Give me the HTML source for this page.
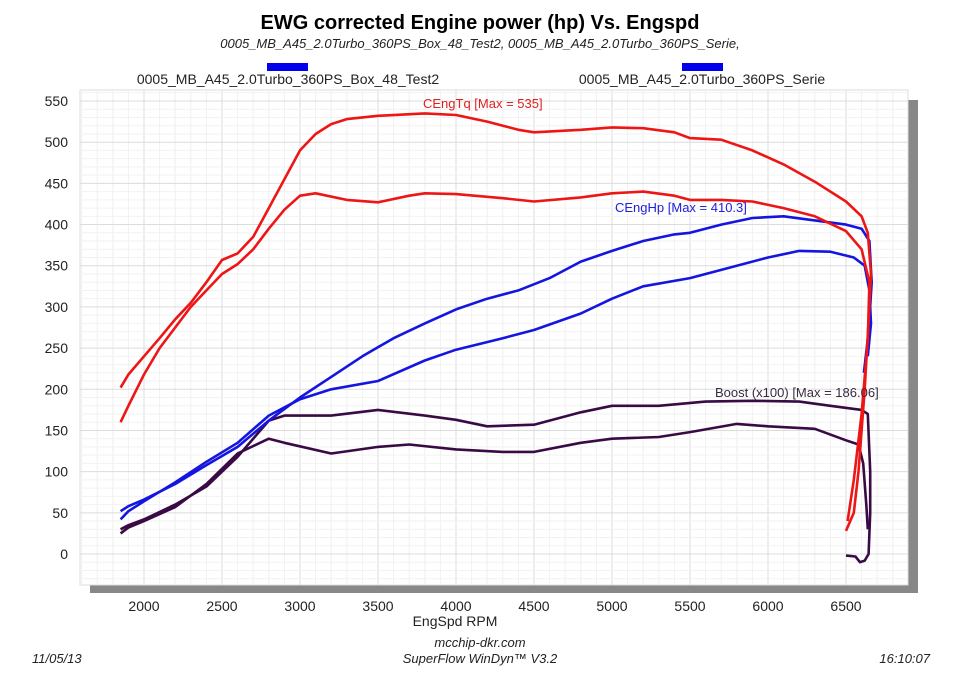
<!DOCTYPE html>
<html><head><meta charset="utf-8"><style>
body{margin:0;background:#fff;width:960px;height:679px;overflow:hidden;font-family:"Liberation Sans",sans-serif}
</style></head><body>
<svg id="c" width="960" height="679" xmlns="http://www.w3.org/2000/svg" font-family="Liberation Sans, sans-serif">
<text x="480" y="29" text-anchor="middle" font-size="20" font-weight="bold" fill="#000">EWG corrected Engine power (hp) Vs. Engspd</text>
<text x="480" y="48" text-anchor="middle" font-size="13" font-style="italic" fill="#222">0005_MB_A45_2.0Turbo_360PS_Box_48_Test2, 0005_MB_A45_2.0Turbo_360PS_Serie,</text>
<rect x="267" y="63" width="41" height="8" fill="#0000ee"/>
<rect x="682" y="63" width="41" height="8" fill="#0000ee"/>
<rect x="908" y="100" width="10" height="493" fill="#888"/>
<rect x="90" y="585" width="828" height="8" fill="#888"/>
<rect x="80" y="90" width="828" height="495" fill="#fff" stroke="#ddd"/>
<text x="288" y="84" text-anchor="middle" font-size="14" fill="#222">0005_MB_A45_2.0Turbo_360PS_Box_48_Test2</text>
<text x="702" y="84" text-anchor="middle" font-size="14" fill="#222">0005_MB_A45_2.0Turbo_360PS_Serie</text>
<g id="grid"></g>
<g id="axes"></g>
<g id="series"></g>
<text x="423" y="108" font-size="13" fill="#e02020">CEngTq [Max = 535]</text>
<text x="615" y="212" font-size="13" fill="#2020dd">CEngHp [Max = 410.3]</text>
<text x="715" y="397" font-size="13" fill="#3a2a40">Boost (x100) [Max = 186.06]</text>
<text x="455" y="626" text-anchor="middle" font-size="14" fill="#222">EngSpd RPM</text>
<text x="480" y="647" text-anchor="middle" font-size="13" font-style="italic" fill="#222">mcchip-dkr.com</text>
<text x="480" y="663" text-anchor="middle" font-size="13" font-style="italic" fill="#222">SuperFlow WinDyn™ V3.2</text>
<text x="32" y="663" font-size="13" font-style="italic" fill="#222">11/05/13</text>
<text x="930" y="663" text-anchor="end" font-size="13" font-style="italic" fill="#222">16:10:07</text>
</svg>
<script>
const xTicks=[2000,2500,3000,3500,4000,4500,5000,5500,6000,6500];
const yTicks=[0,50,100,150,200,250,300,350,400,450,500,550];
const tqBox=[[1850,202],[1900,218],[2000,240],[2100,262],[2200,285],[2300,305],[2400,330],[2500,357],[2600,365],[2700,385],[2800,420],[2900,455],[3000,490],[3100,510],[3200,522],[3300,528],[3500,532],[3800,535],[4000,533],[4200,525],[4400,515],[4500,512],[4800,515],[5000,518],[5200,517],[5400,512],[5500,505],[5700,503],[5900,490],[6100,473],[6300,452],[6500,428],[6600,410],[6640,390],[6660,340],[6650,300],[6620,200],[6580,100],[6550,50],[6500,28]];
const tqSerie=[[1850,160],[1900,180],[2000,218],[2100,250],[2200,275],[2300,300],[2400,320],[2500,340],[2600,352],[2700,370],[2800,395],[2900,418],[3000,435],[3100,438],[3300,430],[3500,427],[3700,435],[3800,438],[4000,437],[4300,432],[4500,428],[4800,433],[5000,438],[5200,440],[5400,435],[5500,430],[5700,430],[5900,428],[6100,420],[6300,410],[6500,392],[6600,370],[6650,330],[6640,260],[6600,170],[6550,90],[6510,40]];
const hpBox=[[1850,52],[1900,58],[2000,66],[2200,85],[2400,108],[2600,130],[2800,162],[3000,190],[3200,215],[3400,240],[3600,262],[3800,280],[4000,297],[4200,310],[4400,320],[4600,335],[4800,355],[5000,368],[5200,380],[5400,388],[5500,390],[5700,400],[5900,408],[6100,410],[6300,405],[6500,400],[6600,395],[6650,380],[6665,330],[6645,270],[6615,220]];
const hpSerie=[[1850,42],[1900,52],[2000,64],[2200,87],[2400,112],[2600,135],[2800,168],[3000,188],[3200,200],[3500,210],[3800,235],[4000,248],[4300,262],[4500,272],[4800,292],[5000,310],[5200,325],[5500,335],[5700,345],[6000,360],[6200,368],[6400,367],[6550,360],[6620,350],[6650,320],[6660,280],[6640,240]];
const boostBox=[[1850,30],[1900,35],[2000,42],[2200,60],[2400,82],[2600,118],[2800,162],[2900,168],[3200,168],[3500,175],[3800,168],[4000,163],[4200,155],[4500,157],[4800,172],[5000,180],[5300,180],[5600,185],[5900,186],[6200,185],[6400,180],[6600,175],[6640,170],[6655,100],[6655,50],[6645,0],[6620,-8],[6590,-10],[6560,-3],[6500,-2]];
const boostSerie=[[1850,25],[1900,32],[2000,40],[2200,57],[2400,85],[2600,122],[2800,140],[2900,135],[3200,122],[3500,130],[3700,133],[4000,127],[4300,124],[4500,124],[4800,135],[5000,140],[5300,142],[5500,148],[5800,158],[6000,155],[6300,152],[6500,138],[6580,133],[6610,110],[6630,60],[6640,30]];
const NS="http://www.w3.org/2000/svg";
const X=r=>144+(r-2000)*0.156, Y=v=>554-v*0.8236;
function mk(t,a,p){const e=document.createElementNS(NS,t);for(const k in a)e.setAttribute(k,a[k]);p.appendChild(e);return e;}
const g=document.getElementById('grid'),ax=document.getElementById('axes'),s=document.getElementById('series');
for(let r=1600;r<=6890;r+=100){const l=mk('line',{x1:X(r),x2:X(r),y1:90,y2:585,stroke:r%500==0?'#dcdcdc':'#f0f0f0','stroke-width':1},g);

}
for(let v=-30;v<=560;v+=10){const l=mk('line',{x1:80,x2:908,y1:Y(v),y2:Y(v),stroke:v%50==0?'#dcdcdc':'#f2f2f2','stroke-width':1},g);

}
xTicks.forEach(r=>{const t=mk('text',{x:X(r),y:611,'text-anchor':'middle','font-size':14,fill:'#222'},ax);t.textContent=r;

});
yTicks.forEach(v=>{const t=mk('text',{x:68,y:Y(v)+5,'text-anchor':'end','font-size':14,fill:'#222'},ax);t.textContent=v;

});
function line(d,c,n){const p=mk('path',{d:d.map((q,i)=>(i?'L':'M')+X(q[0]).toFixed(1)+' '+Y(q[1]).toFixed(1)).join(''),fill:'none',stroke:c,'stroke-width':2.6,'stroke-linejoin':'round'},s);

}
line(boostSerie,'#3a0a45','boost-serie-line');
line(boostBox,'#3a0a45','boost-test2-line');
line(hpSerie,'#1515e0','hp-serie-line');
line(hpBox,'#1515e0','hp-test2-line');
line(tqSerie,'#ee1515','torque-serie-line');
line(tqBox,'#ee1515','torque-test2-line');
</script>
</body></html>
